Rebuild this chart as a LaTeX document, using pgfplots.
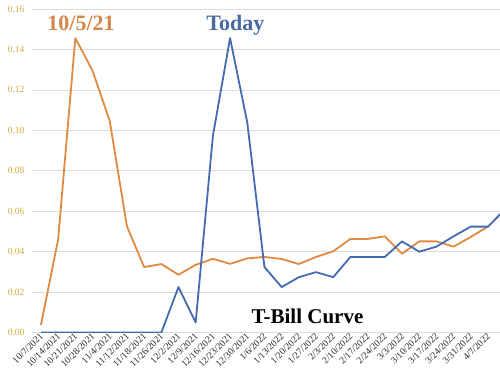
\documentclass[border=0pt]{standalone}
\usepackage{fontspec}
\setmainfont{Liberation Serif}
\usepackage{pgfplots}
\pgfplotsset{compat=1.18}
\definecolor{tborange}{RGB}{222,138,66}
\definecolor{tbblue}{RGB}{68,106,176}
\definecolor{tbgold}{RGB}{214,168,58}
\definecolor{tbgrid}{RGB}{220,220,220}
\definecolor{tbtxtorange}{RGB}{214,134,72}
\definecolor{tbtxtblue}{RGB}{72,106,160}
\begin{document}
\begin{tikzpicture}
\begin{axis}[
  scale only axis, width=468pt, height=323.6pt,
  at={(0,0)}, anchor=south west,
  xmin=-0.52, xmax=26.7, ymin=0, ymax=0.16,
  axis line style={draw=none},
  major tick length=0pt,
  ymajorgrids, grid style={tbgrid, line width=0.8pt},
  ytick={0,0.02,0.04,0.06,0.08,0.10,0.12,0.14,0.16},
  yticklabel style={font=\fontsize{9.5}{10}\selectfont, text=tbgold, xshift=-4pt,
    /pgf/number format/.cd, fixed, fixed zerofill, precision=2, assume math mode=true},
  xtick={0,...,26},
  xticklabels={10/7/2021,10/14/2021,10/21/2021,10/28/2021,11/4/2021,11/12/2021,11/18/2021,11/26/2021,12/2/2021,12/9/2021,12/16/2021,12/23/2021,12/30/2021,1/6/2022,1/13/2022,1/20/2022,1/27/2022,2/3/2022,2/10/2022,2/17/2022,2/24/2022,3/3/2022,3/10/2022,3/17/2022,3/24/2022,3/31/2022,4/7/2022},
  xticklabel style={font=\fontsize{9.5}{10}\selectfont, text=black!85, rotate=45, anchor=east, inner sep=1pt, yshift=-2pt},
]
\addplot[tborange, line width=1.8pt, line join=round] coordinates {
(0,0.0038) (1,0.046) (2,0.1456) (3,0.1295) (4,0.1047) (5,0.0526) (6,0.0324) (7,0.0339) (8,0.0286) (9,0.0335) (10,0.0365) (11,0.034) (12,0.0367) (13,0.0374) (14,0.0364) (15,0.0339) (16,0.0374) (17,0.0402) (18,0.0463) (19,0.0463) (20,0.0476) (21,0.039) (22,0.0451) (23,0.0451) (24,0.0425) (25,0.0473) (26,0.0524)
};
\addplot[tbblue, line width=1.8pt, line join=round] coordinates {
(0,0) (1,0) (2,0) (3,0) (4,0) (5,0) (6,0) (7,0) (8,0.0225) (9,0.005) (10,0.0972) (11,0.1456) (12,0.1039) (13,0.0324) (14,0.0225) (15,0.0274) (16,0.0299) (17,0.0274) (18,0.0374) (19,0.0374) (20,0.0374) (21,0.0451) (22,0.040) (23,0.0425) (24,0.0476) (25,0.0524) (26,0.0524) (27,0.061)
};
\node[anchor=base, text=tbtxtorange, font=\fontsize{22}{24}\selectfont\bfseries, inner sep=0pt] at (axis cs:2.33,0.1492) {10/5/21};
\node[anchor=base, text=tbtxtblue, font=\fontsize{22}{24}\selectfont\bfseries, inner sep=0pt] at (axis cs:11.31,0.1492) {Today};
\node[anchor=base, text=black, font=\fontsize{21}{23}\selectfont\bfseries, inner sep=0pt] at (axis cs:15.5,0.0043) {T-Bill Curve};
\end{axis}
\pgfresetboundingbox
\path[use as bounding box] (-32pt,-45.4pt) rectangle (468pt,332.6pt);
\end{tikzpicture}
\end{document}
